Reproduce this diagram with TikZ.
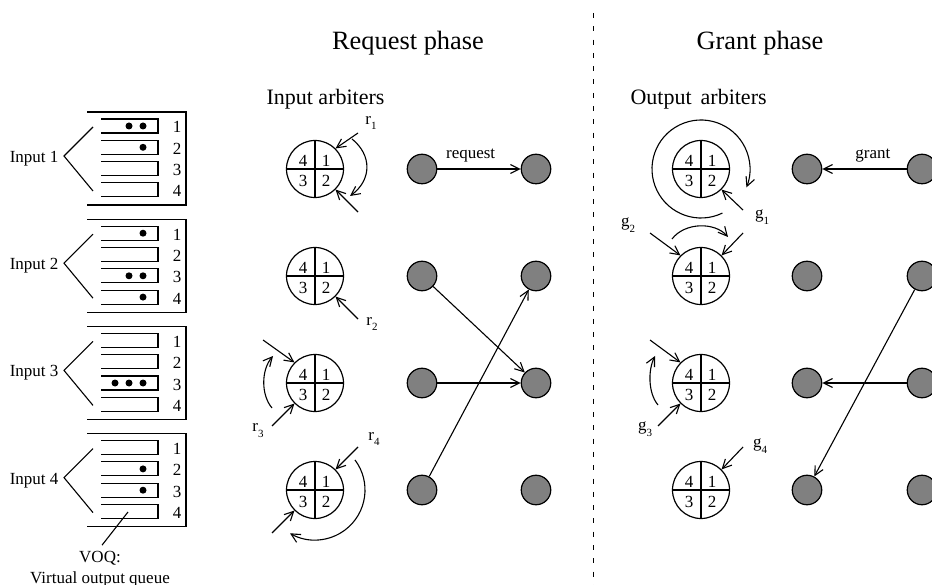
\documentclass[tikz,border=0pt]{standalone}
\usepackage{fontspec}
\setmainfont{Liberation Serif}
\usetikzlibrary{arrows.meta}
\newcommand\sublab[2]{#1\raisebox{-0.35em}{\fontsize{11}{11}\selectfont #2}}
\begin{document}
\begin{tikzpicture}[x=1pt,y=-1pt,line width=1.1pt,
  arr/.style={-{Straight Barb[length=9pt,width=9pt,line width=1.1pt]}},
  arb/.style={circle,draw,line width=1.2pt,minimum size=57pt,inner sep=0pt},
  port/.style={circle,draw,fill=black!50,line width=1.2pt,minimum size=29.5pt,inner sep=0pt},
  txt/.style={font=\fontsize{17}{17}\selectfont,inner sep=0pt},
  title/.style={font=\fontsize{26.4}{26.4}\selectfont,inner sep=0pt},
  head/.style={font=\fontsize{22}{22}\selectfont,inner sep=0pt},
  sep/.style={line width=1pt,dash pattern=on 5pt off 8.3pt}]
\useasboundingbox (0,0) rectangle (932,585);

% ---------- virtual output queues ----------
\foreach \g in {1,2,3,4}{
  \pgfmathsetmacro\t{112+107.2*(\g-1)}
  \draw (87,\t) -- (186,\t) -- (186,\t+93) -- (87,\t+93);
  \foreach \q in {1,...,4}{
    \pgfmathsetmacro\qt{\t+7+21.3*(\q-1)}
    \draw (101,\qt) -- (158,\qt) -- (158,\qt+14) -- (101,\qt+14);
    \node[txt,anchor=base] at (177,\qt+14) {\q};
  }
  \draw (93,\t+15) -- (64,\t+44) -- (93,\t+79);
  \node[txt,anchor=base east] (in\g) at (59,\t+50.5) {Input \g};
}
% queued cells
\foreach \g/\q/\n in {1/1/2,1/2/1,2/1/1,2/3/2,2/4/1,3/3/3,4/2/1,4/3/1}{
  \foreach \k in {1,...,\n}
    \fill (157-14*\k,112+107.2*\g-107.2+14+21.3*\q-21.3) circle[radius=3.5pt];
}
\coordinate (voqtip) at (128,512);
\node[txt,anchor=base] (voq) at (100,562) {VOQ:};
\node[txt,anchor=base] (voqtext) at (100,583) {Virtual output queue};
\draw (voqtip) -- ([shift={(2pt,5pt)}]voq.north);

% ---------- titles ----------
\node[title,anchor=base] (treq) at (408,50) {Request phase};
\node[title,anchor=base] (tgnt) at (760,50) {Grant phase};
\node[head,anchor=base west] (hin) at (266,105) {Input arbiters};
\node[head,anchor=base west] (hout) at (630,105) {Output\hspace{9pt}arbiters};
\coordinate (septop) at (593,13);
\coordinate (sepbot) at (593,585);
\draw[sep] (septop) -- (sepbot);

% ---------- arbiters ----------
\foreach \n/\x/\y in {A1/315/169,A2/315/276,A3/315/383,A4/315/490,
                      B1/701/169,B2/701/276,B3/701/383,B4/701/490}{
  \node[arb] (\n) at (\x,\y) {};
  \draw (\n.north) -- (\n.south) (\n.west) -- (\n.east);
  \node[txt] at (\x-12,\y-8) {4};
  \node[txt] at (\x+11,\y-8) {1};
  \node[txt] at (\x-12,\y+12) {3};
  \node[txt] at (\x+11,\y+12) {2};
}

% ---------- ports ----------
\foreach \i/\y in {1/169,2/276,3/383,4/490}{
  \node[port] (qi\i) at (422,\y) {};
  \node[port] (qo\i) at (536,\y) {};
  \node[port] (gi\i) at (807,\y) {};
  \node[port] (go\i) at (922,\y) {};
}
\draw[arr] (qi1) -- node[txt,above=6pt,pos=0.4] {request} (qo1);
\draw[arr] (qi2) -- (qo3);
\draw[arr] (qi3) -- (qo3);
\draw[arr] (qi4) -- (qo2);
\draw[arr] (go1) -- node[txt,above=6pt,pos=0.4] {grant} (gi1);
\draw[arr] (go2) -- (gi4);
\draw[arr] (go3) -- (gi3);

% ---------- request pointers ----------
\coordinate (r1a) at (358,133);
\coordinate (r1b) at (358,212);
\node[txt] (r1) at (371,123) {\sublab{r}{1}};
\draw[arr] (r1a) -- (A1.45);
\draw[arr] (r1b) -- (A1.-45);
\draw[arr] (352,139) .. controls (372,155) and (372,180) .. (350,196);

\coordinate (r2a) at (358,319);
\node[txt] (r2) at (372,324) {\sublab{r}{2}};
\draw[arr] (r2a) -- (A2.-45);

\coordinate (r3a) at (263,340);
\coordinate (r3b) at (272,426);
\node[txt] (r3) at (258,431) {\sublab{r}{3}};
\draw[arr] (r3a) -- (A3.135);
\draw[arr] (r3b) -- (A3.-135);
\draw[arr] (272,408) .. controls (261,395) and (261,370) .. (273,356);

\coordinate (r4a) at (358,447);
\coordinate (r4b) at (272,533);
\node[txt] (r4) at (374,439) {\sublab{r}{4}};
\draw[arr] (r4a) -- (A4.45);
\draw[arr] (r4b) -- (A4.-135);
\draw[arr] ([shift={(37:50pt)}]A4.center) arc[start angle=37,end angle=-120,radius=50pt];

% ---------- grant pointers ----------
\coordinate (g1a) at (743,210);
\node[txt] (g1) at (762,217) {\sublab{g}{1}};
\draw[arr] (g1a) -- (B1.-45);
\draw[arr] ([shift={(-64:49pt)}]B1.center) arc[start angle=-64,end angle=-382,radius=49pt];

\coordinate (g2a) at (650,233);
\coordinate (g2b) at (743,233);
\node[txt] (g2) at (628,225) {\sublab{g}{2}};
\draw[arr] (g2a) -- (B2.135);
\draw[arr] (g2b) -- (B2.45);
\draw[arr] (672,239) .. controls (685,222) and (715,222) .. (728,237);

\coordinate (g3a) at (650,340);
\coordinate (g3b) at (658,426);
\node[txt] (g3) at (645,429) {\sublab{g}{3}};
\draw[arr] (g3a) -- (B3.135);
\draw[arr] (g3b) -- (B3.-135);
\draw[arr] (658,405) .. controls (648,393) and (648,370) .. (655,356);

\coordinate (g4a) at (743,447);
\node[txt] (g4) at (760,446) {\sublab{g}{4}};
\draw[arr] (g4a) -- (B4.45);
\end{tikzpicture}
\end{document}
